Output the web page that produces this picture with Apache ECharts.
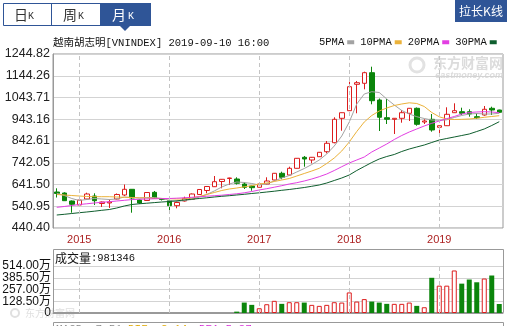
<!DOCTYPE html>
<html>
<head>
<meta charset="utf-8">
<script src="https://cdn.jsdelivr.net/npm/echarts@6/dist/echarts.min.js"></script>
<style>
html,body{margin:0;padding:0;background:#fff;}
#c{width:514px;height:326px;}
</style>
</head>
<body>
<div id="c"></div>
<script>
// Monthly K-line of VNINDEX, Oct 2014 - Sep 2019
const months = [
  '2014-10','2014-11','2014-12',
  '2015-01','2015-02','2015-03','2015-04','2015-05','2015-06','2015-07','2015-08','2015-09','2015-10','2015-11','2015-12',
  '2016-01','2016-02','2016-03','2016-04','2016-05','2016-06','2016-07','2016-08','2016-09','2016-10','2016-11','2016-12',
  '2017-01','2017-02','2017-03','2017-04','2017-05','2017-06','2017-07','2017-08','2017-09','2017-10','2017-11','2017-12',
  '2018-01','2018-02','2018-03','2018-04','2018-05','2018-06','2018-07','2018-08','2018-09','2018-10','2018-11','2018-12',
  '2019-01','2019-02','2019-03','2019-04','2019-05','2019-06','2019-07','2019-08','2019-09'
];
const yearStarts = ['2015-01','2016-01','2017-01','2018-01','2019-01'];

const opens = [606.8,602.2,565.2,546.7,574.5,588.3,553.7,556.0,574.5,593.0,619.3,569.8,567.5,605.4,576.8,
  566.6,543.5,565.2,573.1,595.3,613.8,631.3,655.4,669.2,666.9,643.8,634.6,628.6,643.8,662.3,693.3,685.4,
  716.4,767.3,754.8,770.0,793.1,834.8,947.6,982.7,1104.7,1109.4,1158.4,1032.2,950.3,942.9,947.6,970.7,
  993.8,930.4,942.9,905.9,913.3,973.4,978.1,978.1,955.0,962.8,993.8,985.9];
const closes = [599.9,566.6,550.0,569.8,597.6,566.6,560.6,560.6,595.3,619.3,579.1,556.0,604.5,577.7,572.2,
  543.5,558.3,577.7,597.6,618.4,632.3,654.4,665.5,671.6,647.1,628.6,626.7,643.8,657.7,693.3,674.8,716.4,
  762.6,759.4,767.3,790.4,832.0,942.9,973.4,1093.6,1112.1,1158.4,1028.9,952.2,942.9,947.6,973.4,993.8,
  919.8,935.1,893.5,913.3,966.0,982.7,970.7,967.4,950.3,989.2,985.9,975.3];
const lows = [581.4,565.2,511.1,542.1,572.2,546.7,537.5,532.9,572.2,588.3,511.1,551.4,565.2,574.5,567.5,
  511.1,531.5,562.9,569.8,593.0,600.8,629.9,623.9,639.2,641.5,620.7,612.8,627.6,641.5,660.0,665.5,683.1,
  715.5,723.8,739.5,768.6,785.7,832.0,890.2,981.3,970.7,1081.6,1012.3,888.8,921.2,875.0,927.2,935.1,
  913.3,921.2,885.6,865.7,912.0,972.1,962.8,955.0,944.3,959.6,962.8,972.0];
const highs = [623.9,605.4,567.5,574.5,603.6,600.8,562.9,572.2,599.9,641.5,620.7,572.2,606.8,611.5,579.1,
  567.5,566.6,585.1,599.9,620.7,634.6,680.8,666.9,672.9,674.8,651.7,636.9,646.1,674.8,694.7,700.7,723.8,
  764.0,773.3,768.6,791.8,842.6,952.2,974.4,1116.8,1120.0,1163.0,1186.1,1039.1,1036.8,948.9,985.9,995.2,
  997.5,942.9,967.4,914.3,998.4,1016.9,996.6,989.2,970.7,1004.4,1001.2,987.0];

const ma5 = [600.8,590.6,576.8,567.5,572.2,576.8,574.5,572.2,574.5,583.7,581.4,579.1,581.4,581.4,576.8,
  568.5,562.9,567.5,572.2,583.7,595.3,611.5,629.9,643.8,653.1,650.8,646.1,639.2,643.8,657.7,671.6,683.1,
  699.3,715.5,734.0,754.8,782.5,819.5,865.7,930.4,1013.7,1059.9,1070.5,1066.8,1036.8,1009.0,983.6,967.4,
  955.0,946.6,939.7,938.3,940.6,951.3,960.5,967.4,969.7,967.4,967.4,970.7];
const ma10 = [595.3,593.0,590.6,588.3,586.0,585.1,585.1,585.1,583.7,582.3,581.4,580.0,579.1,577.7,576.8,
  575.9,574.5,574.5,579.1,586.0,595.3,604.5,613.8,620.7,625.3,630.9,635.9,643.8,648.4,655.4,662.3,669.2,
  680.8,692.4,703.9,716.4,738.6,764.0,796.4,838.0,886.5,930.4,960.5,981.3,995.2,1006.7,1013.7,1019.2,
  1016.0,1002.1,974.4,954.5,944.3,942.0,942.9,944.3,947.6,952.2,955.9,959.6];
const ma20 = [536.1,539.8,544.4,549.0,552.3,556.0,559.2,562.0,565.2,568.4,571.7,573.5,574.5,575.4,576.3,
  576.8,578.2,580.0,582.3,584.7,587.4,589.7,592.0,595.3,598.5,603.1,609.1,616.1,622.1,629.0,636.0,643.8,
  649.8,657.7,666.9,677.6,690.0,706.2,723.8,740.9,754.8,768.6,791.8,810.2,828.7,849.5,868.0,884.2,
  898.1,912.0,924.4,935.1,945.7,955.9,967.4,974.4,976.7,978.1,976.7,973.4];
const ma30 = [500.5,503.7,507.4,511.1,514.4,518.1,522.2,525.9,532.9,542.1,549.0,552.3,555.0,557.8,560.6,
  562.9,566.1,569.8,573.5,576.8,580.0,583.7,586.9,589.7,593.0,596.2,599.9,603.1,606.8,610.5,614.7,618.4,
  623.0,627.6,633.2,639.2,648.4,660.0,671.6,685.4,706.2,724.7,743.2,759.4,770.9,780.2,794.1,805.6,
  814.9,824.1,835.7,847.2,854.2,861.1,868.0,875.0,886.5,898.1,914.3,931.8];

// Monthly turnover (shares); no data before Oct 2016
const volumes = [null,null,null,null,null,null,null,null,null,null,null,null,null,null,null,
  null,null,null,null,null,null,null,null,null,150000,1140000,890000,520000,960000,1330000,1000000,1180000,
  1180000,1140000,890000,780000,890000,1180000,1140000,2250000,1250000,1520000,1250000,1140000,1000000,1000000,1000000,1140000,
  780000,630000,3850000,2990000,2990000,4650000,3210000,3660000,3360000,3770000,4100000,981346];

const priceTicks = [440.40,540.95,641.50,742.05,842.61,943.16,1043.71,1144.26,1244.82];
const volTicks = [0,1285000,2570000,3855000,5140000];
// volume labels are split over two stacked axes so neighbouring labels are not dropped
const volTicksA = [0,2570000,5140000];
const volTicksB = [1285000,3855000];

const RED = '#dc1d1d', GREEN = '#0b850b';
const MONO = "'Liberation Mono','Noto Sans CJK SC',monospace";
const CJK = "'Noto Sans CJK SC',sans-serif";
const SANS = "'Liberation Sans','Noto Sans CJK SC',sans-serif";

const volFmt = v => v === 0 ? '0' : (v / 10000).toFixed(2) + '万';

const yearLines = () => ({
  silent: true, symbol: 'none', label: {show: false}, animation: false,
  lineStyle: {color: '#c4c4c4', type: [4, 3], width: 1},
  emphasis: {disabled: true},
  data: yearStarts.map(m => ({xAxis: m}))
});

const maSeries = (name, data, color) => ({
  name, type: 'line', data, xAxisIndex: 0, yAxisIndex: 0,
  showSymbol: false, symbol: 'none', smooth: false, z: 3,
  lineStyle: {width: 1, color}, itemStyle: {color},
  emphasis: {disabled: true}
});

const volAxis = (labels, withLines) => ({
  type: 'value', gridIndex: 1, position: 'left', offset: 0,
  min: volTicks[0], max: volTicks[volTicks.length - 1],
  axisLine: {show: withLines, lineStyle: {color: '#999'}},
  axisTick: {show: false, customValues: withLines ? volTicks : labels},
  axisLabel: {customValues: labels, formatter: volFmt, color: '#111',
    fontSize: 12, fontFamily: SANS, margin: 2, padding: [0, 0, 3, 0],
    showMinLabel: true, showMaxLabel: true},
  splitLine: {show: withLines, lineStyle: {color: '#d3d3d3', width: 1}}
});

const chart = echarts.init(document.getElementById('c'), null, {renderer: 'canvas'});

chart.setOption({
  animation: false,
  backgroundColor: '#fff',
  textStyle: {fontFamily: SANS},
  legend: {
    data: ['5PMA', '10PMA', '20PMA', '30PMA'],
    left: 319, top: 37, align: 'right', icon: 'rect',
    itemWidth: 7, itemHeight: 4, itemGap: 6, padding: 0,
    selectedMode: false,
    textStyle: {fontFamily: MONO, fontSize: 10.5, color: '#111', padding: [0, -2, 0, 0]}
  },
  grid: [
    {left: 53, top: 54, width: 450, height: 174, show: true, borderColor: '#999', borderWidth: 1,
     backgroundColor: 'transparent', containLabel: false, outerBoundsMode: 'none'},
    {left: 53, top: 266, width: 450, height: 47, containLabel: false, outerBoundsMode: 'none'}
  ],
  xAxis: [
    {type: 'category', gridIndex: 0, data: months, boundaryGap: true,
     axisLine: {show: false}, axisTick: {show: false}, splitLine: {show: false},
     axisLabel: {interval: (i, v) => yearStarts.indexOf(v) >= 0, formatter: v => v.slice(0, 4),
       color: '#ad2323', fontSize: 11, fontFamily: SANS, margin: 6}},
    {type: 'category', gridIndex: 1, data: months, boundaryGap: true,
     axisLine: {show: true, lineStyle: {color: '#999'}}, axisTick: {show: false},
     axisLabel: {show: false}, splitLine: {show: false}}
  ],
  yAxis: [
    {type: 'value', gridIndex: 0, min: priceTicks[0], max: priceTicks[priceTicks.length - 1],
     axisLine: {show: true, lineStyle: {color: '#999'}},
     axisTick: {show: false, customValues: priceTicks},
     axisLabel: {customValues: priceTicks, formatter: v => v.toFixed(2), color: '#222',
       fontSize: 12.5, fontFamily: SANS, margin: 3},
     splitLine: {show: true, lineStyle: {color: '#d3d3d3', width: 1}}},
    volAxis(volTicksA, true),
    volAxis(volTicksB, false)
  ],
  series: [
    {type: 'candlestick', xAxisIndex: 0, yAxisIndex: 0, barWidth: 5, z: 2,
     data: months.map((m, i) => [opens[i], closes[i], lows[i], highs[i]]),
     itemStyle: {color: '#fff', color0: GREEN, borderColor: RED, borderColor0: GREEN, borderWidth: 1},
     emphasis: {disabled: true},
     markLine: yearLines()},
    maSeries('5PMA', ma5, '#a3a3a3'),
    maSeries('10PMA', ma10, '#ebb23a'),
    maSeries('20PMA', ma20, '#e23ee2'),
    maSeries('30PMA', ma30, '#0f5e2e'),
    {type: 'bar', xAxisIndex: 1, yAxisIndex: 1, barWidth: 5,
     data: volumes.map((v, i) => v == null ? '-' : {
       value: v,
       itemStyle: closes[i] >= opens[i]
         ? {color: '#fff', borderColor: RED, borderWidth: 1}
         : {color: GREEN, borderColor: GREEN, borderWidth: 0}
     }),
     emphasis: {disabled: true},
     markLine: yearLines()}
  ],
  graphic: [
    // period tabs
    {type: 'rect', shape: {x: 3.5, y: 3.5, width: 147, height: 22}, style: {fill: '#fff', stroke: '#2f5597', lineWidth: 1}},
    {type: 'line', shape: {x1: 51.5, y1: 4, x2: 51.5, y2: 26}, style: {stroke: '#2f5597', lineWidth: 1}},
    {type: 'rect', shape: {x: 100, y: 3, width: 51, height: 23}, style: {fill: '#2f5597'}},
    {type: 'polygon', shape: {points: [[120, 26], [130, 26], [125, 31]]}, style: {fill: '#2f5597'}},
    {type: 'text', style: {text: '日', x: 21, y: 15, font: '14px ' + CJK, fill: '#333', align: 'center', verticalAlign: 'middle'}},
    {type: 'text', style: {text: 'K', x: 31, y: 16, font: '10px ' + MONO, fill: '#333', align: 'center', verticalAlign: 'middle'}},
    {type: 'text', style: {text: '周', x: 70, y: 15, font: '14px ' + CJK, fill: '#333', align: 'center', verticalAlign: 'middle'}},
    {type: 'text', style: {text: 'K', x: 81, y: 16, font: '10px ' + MONO, fill: '#333', align: 'center', verticalAlign: 'middle'}},
    {type: 'text', style: {text: '月', x: 119, y: 15, font: '14px ' + CJK, fill: '#fff', align: 'center', verticalAlign: 'middle'}},
    {type: 'text', style: {text: 'K', x: 131, y: 16, font: '10px ' + MONO, fill: '#fff', align: 'center', verticalAlign: 'middle'}},
    // stretch button
    {type: 'rect', shape: {x: 455, y: 0, width: 52, height: 22}, style: {fill: '#2f5597'}},
    {type: 'text', style: {text: '拉长K线', x: 481, y: 11, font: '12px ' + CJK, fill: '#fff', align: 'center', verticalAlign: 'middle'}},
    // title
    {type: 'text', style: {text: '越南胡志明[VNINDEX] 2019-09-10 16:00', x: 53, y: 43, font: '10.5px ' + MONO, fill: '#111', align: 'left', verticalAlign: 'middle'}},
    // site marks
    {type: 'text', z: 0, style: {text: '东方财富网', x: 503, y: 63, font: 'bold 14px ' + CJK, fill: '#dcdcdc', align: 'right', verticalAlign: 'middle'}},
    {type: 'text', z: 0, style: {text: 'eastmoney.com', x: 503, y: 76, font: 'italic bold 9px ' + SANS, fill: '#dcdcdc', align: 'right', verticalAlign: 'middle'}},
    {type: 'circle', z: 0, shape: {cx: 417, cy: 65, r: 7}, style: {fill: 'none', stroke: '#e2e2e2', lineWidth: 3}},
    {type: 'text', z: 0, style: {text: '东方财富网', x: 25, y: 313, font: '10px ' + CJK, fill: '#e0e0e0', align: 'left', verticalAlign: 'middle'}},
    {type: 'circle', z: 0, shape: {cx: 15, cy: 313, r: 4}, style: {fill: 'none', stroke: '#e0e0e0', lineWidth: 2}},
    // volume pane frame and header
    {type: 'rect', shape: {x: 53.5, y: 249.5, width: 450, height: 63}, style: {fill: 'none', stroke: '#999', lineWidth: 1}},
    {type: 'text', style: {text: '成交量', x: 55, y: 258, font: '12px ' + CJK, fill: '#111', align: 'left', verticalAlign: 'middle'}},
    {type: 'text', style: {text: ':' + volumes[volumes.length - 1], x: 91, y: 258, font: '10.5px ' + MONO, fill: '#111', align: 'left', verticalAlign: 'middle'}},
    // indicator pane below
    {type: 'rect', shape: {x: 53.5, y: 322.5, width: 450, height: 20}, style: {fill: 'none', stroke: '#999', lineWidth: 1}},
    {type: 'text', style: {text: 'MACD:-7.51', x: 56, y: 324, font: '11px ' + MONO, fill: '#8a8a8a', align: 'left', verticalAlign: 'top'}},
    {type: 'text', style: {text: 'DIF:-2.14', x: 128, y: 324, font: '11px ' + MONO, fill: '#e0a800', align: 'left', verticalAlign: 'top'}},
    {type: 'text', style: {text: 'DEA:5.37', x: 199, y: 324, font: '11px ' + MONO, fill: '#d62ad6', align: 'left', verticalAlign: 'top'}}
  ]
});
</script>
</body>
</html>
